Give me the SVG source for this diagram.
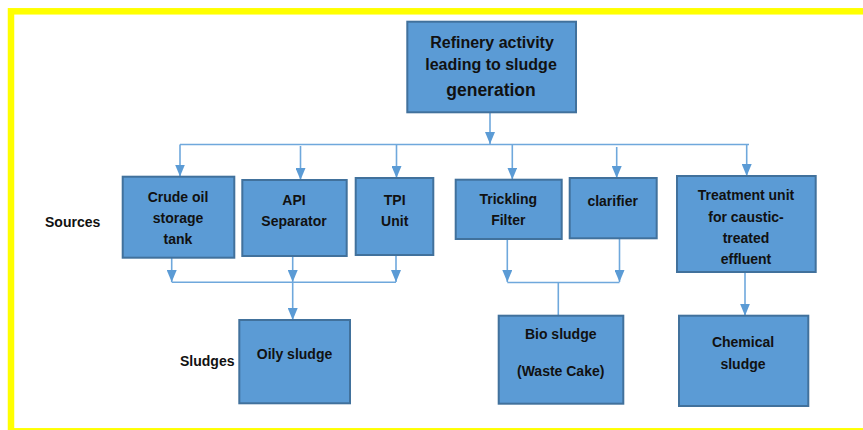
<svg xmlns="http://www.w3.org/2000/svg" width="863" height="430" viewBox="0 0 863 430">
<style>
.box{fill:#5B9BD5;stroke:#41719C;stroke-width:2}
.t{font-family:"Liberation Sans",Arial,sans-serif;font-weight:bold;font-size:14px;fill:#111;text-anchor:middle}
.t16{font-size:16px}
.t17{font-size:17.5px}
.lbl{font-family:"Liberation Sans",Arial,sans-serif;font-weight:bold;font-size:14px;fill:#111}
.c{fill:none;stroke:#6FA8DC;stroke-width:1.6}
</style>
<defs>
<marker id="ah" markerUnits="userSpaceOnUse" markerWidth="12" markerHeight="10" viewBox="0 0 12 10" refX="12" refY="5" orient="auto">
<path d="M0,0 L12,5 L0,10 Z" fill="#5B9BD5"/>
</marker>
</defs>
<rect x="11" y="11.3" width="870" height="420" fill="none" stroke="#FFFF00" stroke-width="6.5"/>
<g id="connectors">
<path class="c" d="M490,112 V144" marker-end="url(#ah)"/>
<path class="c" d="M180,144.5 H749"/>
<path class="c" d="M180,144.5 V176.5" marker-end="url(#ah)"/>
<path class="c" d="M300.5,146 V180" marker-end="url(#ah)"/>
<path class="c" d="M396.5,144.5 V178" marker-end="url(#ah)"/>
<path class="c" d="M512.3,145 V179.5" marker-end="url(#ah)"/>
<path class="c" d="M616.7,147 V178" marker-end="url(#ah)"/>
<path class="c" d="M746.7,145 V176" marker-end="url(#ah)"/>
<path class="c" d="M171.7,257.7 V282" marker-end="url(#ah)"/>
<path class="c" d="M292.7,256 V282" marker-end="url(#ah)"/>
<path class="c" d="M396,255 V282" marker-end="url(#ah)"/>
<path class="c" d="M171.7,282.3 H396"/>
<path class="c" d="M292.7,282.3 V320" marker-end="url(#ah)"/>
<path class="c" d="M507.3,239 V282" marker-end="url(#ah)"/>
<path class="c" d="M619.5,238.3 V282" marker-end="url(#ah)"/>
<path class="c" d="M507.3,282.5 H619.5"/>
<path class="c" d="M558.3,282.5 V315.7"/>
<path class="c" d="M745,272 V315.7" marker-end="url(#ah)"/>
</g>
<g id="top">
<rect class="box" x="407.3" y="21.7" width="168.7" height="90.6"/>
<text class="t t16" x="492" y="48.3">Refinery activity</text>
<text class="t t16" x="491" y="70">leading to sludge</text>
<text class="t t17" x="491" y="96">generation</text>
</g>
<g id="label-sources"><text class="lbl" x="45" y="226.7">Sources</text></g>
<g id="label-sludges"><text class="lbl" x="180" y="366">Sludges</text></g>
<g id="crude">
<rect class="box" x="122.7" y="176.7" width="111.6" height="81"/>
<text class="t" x="178" y="201.7">Crude oil</text>
<text class="t" x="178" y="223">storage</text>
<text class="t" x="178" y="244">tank</text>
</g>
<g id="api">
<rect class="box" x="242.3" y="180" width="104.4" height="76"/>
<text class="t" x="294" y="205">API</text>
<text class="t" x="294" y="225.7">Separator</text>
</g>
<g id="tpi">
<rect class="box" x="355.7" y="178" width="77.6" height="77"/>
<text class="t" x="394.7" y="205">TPI</text>
<text class="t" x="394.7" y="225.7">Unit</text>
</g>
<g id="trickling">
<rect class="box" x="455.7" y="179.7" width="106" height="59.3"/>
<text class="t" x="508.3" y="204.3">Trickling</text>
<text class="t" x="508.3" y="225.3">Filter</text>
</g>
<g id="clarifier">
<rect class="box" x="569.7" y="178" width="87" height="60.3"/>
<text class="t" x="612.7" y="205.7">clarifier</text>
</g>
<g id="treatment">
<rect class="box" x="677" y="176" width="138.7" height="96"/>
<text class="t" x="746" y="200">Treatment unit</text>
<text class="t" x="746" y="221.7">for caustic-</text>
<text class="t" x="746" y="243.3">treated</text>
<text class="t" x="746" y="264.3">effluent</text>
</g>
<g id="oily">
<rect class="box" x="239.3" y="320" width="110.7" height="83.3"/>
<text class="t" x="294.5" y="359">Oily sludge</text>
</g>
<g id="bio">
<rect class="box" x="498.7" y="315.7" width="124.6" height="88"/>
<text class="t" x="560.7" y="339">Bio sludge</text>
<text class="t" x="560.7" y="376">(Waste Cake)</text>
</g>
<g id="chemical">
<rect class="box" x="679" y="315.7" width="129.3" height="90.3"/>
<text class="t" x="743" y="347.3">Chemical</text>
<text class="t" x="743" y="369.3">sludge</text>
</g>
</svg>
